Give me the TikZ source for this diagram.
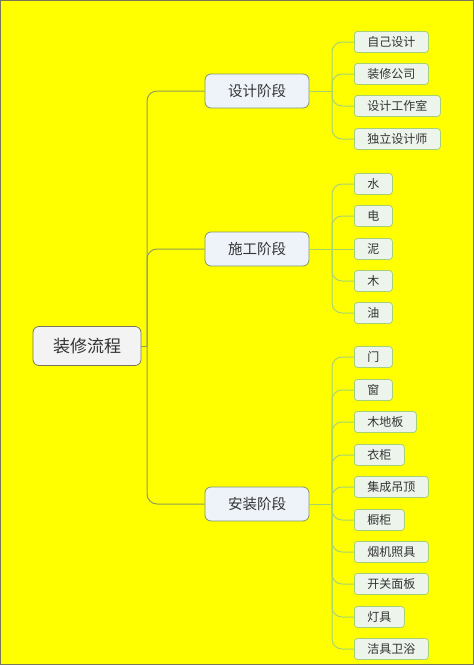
\documentclass[tikz,border=0pt]{standalone}
\usepackage{fontspec}
\setmainfont{Noto Sans CJK SC}
\usepackage{tikz}
\definecolor{bgyellow}{RGB}{255,255,0}
\definecolor{rootfill}{RGB}{243,243,243}
\definecolor{rootline}{RGB}{120,120,90}
\definecolor{stagefill}{RGB}{238,243,250}
\definecolor{stageline}{RGB}{130,150,110}
\definecolor{leaffill}{RGB}{236,244,236}
\definecolor{leafline}{RGB}{166,208,120}
\definecolor{trunkline}{RGB}{140,160,90}
\definecolor{twigline}{RGB}{168,212,110}
\definecolor{txt}{RGB}{51,51,51}

\tikzset{
  rootbox/.style={draw=rootline, fill=rootfill, rounded corners=6pt, line width=0.8pt,
    minimum width=108pt, minimum height=39pt, text=txt, font=\fontsize{17}{17}\selectfont},
  stagebox/.style={draw=stageline, fill=stagefill, rounded corners=6pt, line width=0.8pt,
    minimum width=104pt, minimum height=34pt, text=txt, font=\fontsize{14.5}{14.5}\selectfont},
  leafbox/.style={draw=leafline, fill=leaffill, rounded corners=3pt, line width=0.8pt,
    inner xsep=13pt, minimum height=21pt, anchor=west, text=txt, font=\fontsize{12}{12}\selectfont},
  trunk/.style={draw=trunkline, line width=1pt, rounded corners=10pt},
  twig/.style={draw=twigline, line width=1pt, rounded corners=10pt}
}

\begin{document}
\begin{tikzpicture}[x=1pt, y=-1pt]
  \fill[bgyellow] (0,0) rectangle (474,665);
  \draw[rootline, line width=1pt] (0.5,0.5) rectangle (473.5,664.5);
  \useasboundingbox (0,0) rectangle (474,665);

  % root and stages
  \node[rootbox] (root) at (87,346) {装修流程};
  \node[stagebox] (sj) at (257,91) {设计阶段};
  \node[stagebox] (sg) at (257,249) {施工阶段};
  \node[stagebox] (az) at (257,504) {安装阶段};

  % trunk
  \coordinate (t) at (147,346);
  \draw[trunk] (root.east) -- (t);
  \foreach \s in {sj,sg,az} {
    \draw[trunk] (t) |- (\s.west);
  }

  % leaves of the design stage
  \coordinate (sjx) at (332,91);
  \draw[twig] (sj.east) -- (sjx);
  \foreach \n/\y/\t in {sj1/42/自己设计, sj2/74/装修公司, sj3/106/设计工作室, sj4/139/独立设计师} {
    \node[leafbox] (\n) at (354,\y) {\t};
    \draw[twig] (sjx) |- (\n.west);
  }

  % leaves of the build stage
  \coordinate (sgx) at (332,249);
  \draw[twig] (sg.east) -- (sgx);
  \foreach \n/\y/\t in {sg1/184/水, sg2/216/电, sg4/281/木, sg5/313/油} {
    \node[leafbox] (\n) at (354,\y) {\t};
    \draw[twig] (sgx) |- (\n.west);
  }
  \node[leafbox] (sg3) at (354,249) {泥};
  \draw[twig] (sgx) -- (sg3.west);

  % leaves of the install stage
  \coordinate (azx) at (332,504);
  \draw[twig] (az.east) -- (azx);
  \foreach \n/\y/\t in {az1/357/门, az2/390/窗, az3/422/木地板, az4/455/衣柜, az5/487/集成吊顶,
      az6/520/橱柜, az7/552/烟机照具, az8/584/开关面板, az9/617/灯具, az10/649/洁具卫浴} {
    \node[leafbox] (\n) at (354,\y) {\t};
    \draw[twig] (azx) |- (\n.west);
  }
\end{tikzpicture}
\end{document}
